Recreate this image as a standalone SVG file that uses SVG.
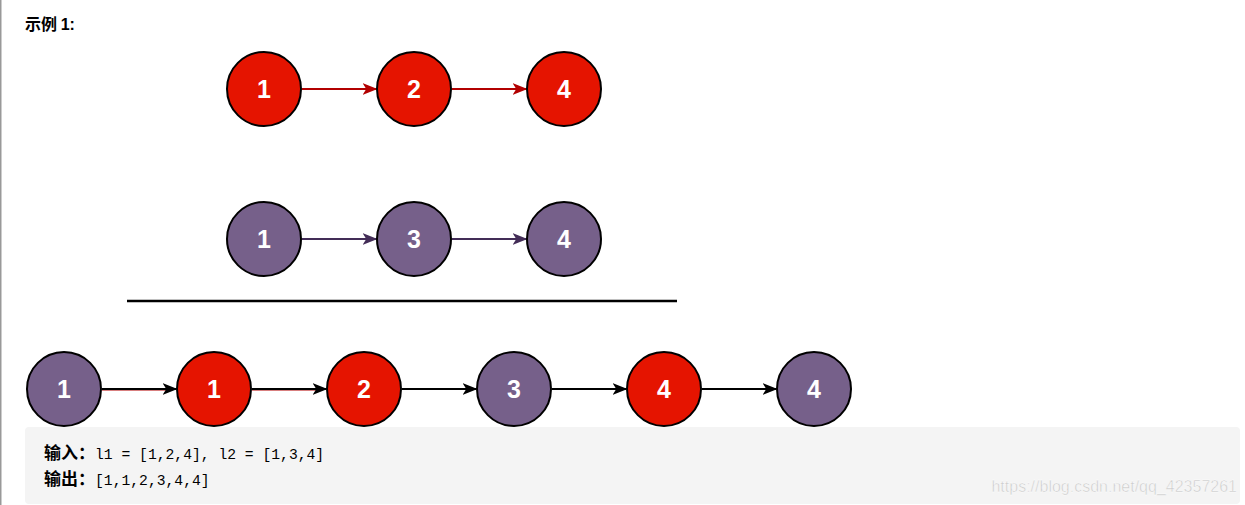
<svg xmlns="http://www.w3.org/2000/svg" width="1245" height="505" viewBox="0 0 1245 505">
<style>
.r{fill:#e51400;stroke:#000;stroke-width:2}
.p{fill:#76608a;stroke:#000;stroke-width:2}
.n{font-family:"Liberation Sans",Arial,sans-serif;font-weight:bold;font-size:25px;fill:#fff;text-anchor:middle}
.code{font-family:"Liberation Mono","DejaVu Sans Mono",monospace;font-size:14.7px;fill:#000;font-weight:normal}
.cjk{font-family:"Noto Sans CJK SC",sans-serif;font-weight:bold;font-size:17px;fill:#000}
.t{font-family:"Noto Sans CJK SC",sans-serif;font-weight:bold;font-size:16px;fill:#000}
</style>
<defs>
<marker id="ar" viewBox="0 0 10 10" refX="9" refY="5" markerWidth="15" markerHeight="15" markerUnits="userSpaceOnUse" orient="auto"><path d="M0,1 L10,5 L0,9 L2.5,5 Z" fill="#b20000"/></marker>
<marker id="ap" viewBox="0 0 10 10" refX="9" refY="5" markerWidth="15" markerHeight="15" markerUnits="userSpaceOnUse" orient="auto"><path d="M0,1 L10,5 L0,9 L2.5,5 Z" fill="#432d57"/></marker>
<marker id="ab" viewBox="0 0 10 10" refX="9" refY="5" markerWidth="15" markerHeight="15" markerUnits="userSpaceOnUse" orient="auto"><path d="M0,1 L10,5 L0,9 L2.5,5 Z" fill="#000"/></marker>
</defs>
<rect x="0" y="0" width="1245" height="505" fill="#fff"/>
<rect x="0" y="0" width="1.5" height="505" fill="#999"/>
<text x="25" y="30" class="t">示例 <tspan font-family="Liberation Sans,Arial,sans-serif">1:</tspan></text>
<g id="connectors">
<line x1="302" y1="89" x2="376" y2="89" stroke="#b20000" stroke-width="2" marker-end="url(#ar)"/>
<line x1="452" y1="89" x2="526" y2="89" stroke="#b20000" stroke-width="2" marker-end="url(#ar)"/>
<line x1="302" y1="239" x2="376" y2="239" stroke="#432d57" stroke-width="2" marker-end="url(#ap)"/>
<line x1="452" y1="239" x2="526" y2="239" stroke="#432d57" stroke-width="2" marker-end="url(#ap)"/>
<line x1="102" y1="390" x2="168" y2="390" stroke="#b20000" stroke-width="1"/>
<line x1="252" y1="390" x2="318" y2="390" stroke="#b20000" stroke-width="1"/>
<line x1="102" y1="389" x2="176" y2="389" stroke="#000" stroke-width="2" marker-end="url(#ab)"/>
<line x1="252" y1="389" x2="326" y2="389" stroke="#000" stroke-width="2" marker-end="url(#ab)"/>
<line x1="402" y1="389" x2="476" y2="389" stroke="#000" stroke-width="2" marker-end="url(#ab)"/>
<line x1="552" y1="389" x2="626" y2="389" stroke="#000" stroke-width="2" marker-end="url(#ab)"/>
<line x1="702" y1="389" x2="776" y2="389" stroke="#000" stroke-width="2" marker-end="url(#ab)"/>
</g>
<line x1="127" y1="301" x2="677" y2="301" stroke="#000" stroke-width="2.5"/>
<g id="a1"><circle cx="264" cy="89" r="37" class="r"/><text x="264" y="98" class="n">1</text></g>
<g id="a2"><circle cx="414" cy="89" r="37" class="r"/><text x="414" y="98" class="n">2</text></g>
<g id="a4"><circle cx="564" cy="89" r="37" class="r"/><text x="564" y="98" class="n">4</text></g>
<g id="b1"><circle cx="264" cy="239" r="37" class="p"/><text x="264" y="248" class="n">1</text></g>
<g id="b3"><circle cx="414" cy="239" r="37" class="p"/><text x="414" y="248" class="n">3</text></g>
<g id="b4"><circle cx="564" cy="239" r="37" class="p"/><text x="564" y="248" class="n">4</text></g>
<g id="c1"><circle cx="64" cy="389" r="37" class="p"/><text x="64" y="398" class="n">1</text></g>
<g id="c2"><circle cx="214" cy="389" r="37" class="r"/><text x="214" y="398" class="n">1</text></g>
<g id="c3"><circle cx="364" cy="389" r="37" class="r"/><text x="364" y="398" class="n">2</text></g>
<g id="c4"><circle cx="514" cy="389" r="37" class="p"/><text x="514" y="398" class="n">3</text></g>
<g id="c5"><circle cx="664" cy="389" r="37" class="r"/><text x="664" y="398" class="n">4</text></g>
<g id="c6"><circle cx="814" cy="389" r="37" class="p"/><text x="814" y="398" class="n">4</text></g>
<rect x="25" y="427" width="1215" height="77" rx="4" fill="#f4f4f4"/>
<text x="44" y="459" class="cjk">输入：<tspan class="code">l1 = [1,2,4], l2 = [1,3,4]</tspan></text>
<text x="44" y="485" class="cjk">输出：<tspan class="code">[1,1,2,3,4,4]</tspan></text>
<text x="1237" y="492" text-anchor="end" font-family="Liberation Sans,Arial,sans-serif" font-size="16" fill="#c9c9c9" stroke="#ffffff" stroke-width="0.4">https://blog.csdn.net/qq_42357261</text>
</svg>
